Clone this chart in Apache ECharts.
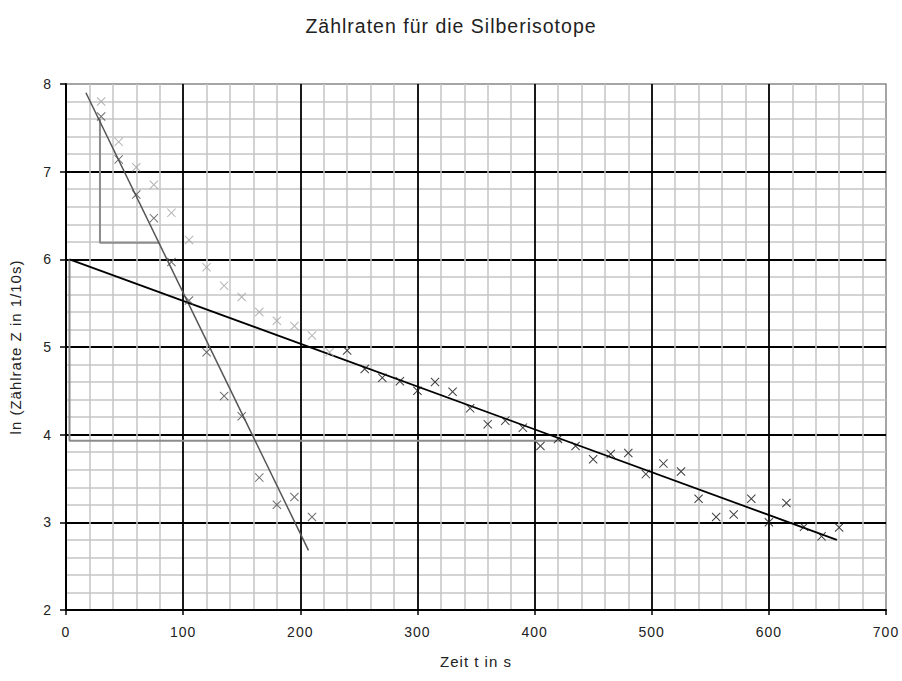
<!DOCTYPE html>
<html>
<head>
<meta charset="utf-8">
<script src="https://cdn.jsdelivr.net/npm/echarts@6/dist/echarts.min.js"></script>
<style>
  html, body { margin: 0; padding: 0; background: #fff; }
  #chart { width: 902px; height: 681px; }
  /* etwas gesperrte Schrift wie im Original */
  #chart svg text { letter-spacing: 1px; }
</style>
</head>
<body>
<div id="chart"></div>
<script>
// Messzeiten (s) und ln der Zaehlraten
const tTotal = [30, 45, 60, 75, 90, 105, 120, 135, 150, 165, 180, 195, 210, 225];
const lnTotal = [7.80, 7.34, 7.05, 6.85, 6.53, 6.22, 5.91, 5.70, 5.57, 5.40, 5.30, 5.24, 5.13, 4.94];

const tShort = [30, 45, 60, 75, 90, 105, 120, 135, 150, 165, 180, 195, 210];
const lnShort = [7.63, 7.14, 6.74, 6.47, 5.97, 5.53, 4.94, 4.44, 4.21, 3.51, 3.20, 3.29, 3.06];

const tLong = [240, 255, 270, 285, 300, 315, 330, 345, 360, 375, 390, 405, 420, 435, 450,
  465, 480, 495, 510, 525, 540, 555, 570, 585, 600, 615, 630, 645, 660];
const lnLong = [4.96, 4.75, 4.65, 4.61, 4.50, 4.60, 4.49, 4.30, 4.12, 4.16, 4.08, 3.87, 3.95, 3.87, 3.72,
  3.78, 3.79, 3.55, 3.67, 3.58, 3.27, 3.06, 3.09, 3.27, 3.00, 3.22, 2.95, 2.84, 2.94];

// Ausgleichsgeraden (Endpunkte) und Steigungsdreiecke
const fitShort = [[17, 7.9], [207, 2.68]];
const fitLong = [[3, 6.0], [658, 2.8]];
const triShort = [[29, 7.6], [29, 6.19], [80, 6.19]];
const triLong = [[3, 6.0], [3, 3.93], [423, 3.93]];

const cross = "path://M0,0.8 L0.8,0 L5,4.2 L9.2,0 L10,0.8 L5.8,5 L10,9.2 L9.2,10 L5,5.8 L0.8,10 L0,9.2 L4.2,5 Z";

function pairs(xs, ys) {
  return xs.map((x, i) => [x, ys[i]]);
}

const font = "Liberation Sans";
const chart = echarts.init(document.getElementById("chart"), null, { renderer: "svg" });

const option = {
  animation: false,
  backgroundColor: "#fff",
  title: {
    text: "Zählraten für die Silberisotope",
    left: "center",
    top: 11,
    textStyle: { fontFamily: font, fontSize: 19.5, fontWeight: "normal", color: "#222" }
  },
  grid: {
    left: 65,
    right: 16,
    top: 84,
    bottom: 71,
    show: true,
    borderColor: "#888",
    borderWidth: 1.5,
    backgroundColor: "transparent"
  },
  xAxis: {
    type: "value",
    min: 0,
    max: 700,
    interval: 100,
    name: "Zeit t in s",
    nameLocation: "middle",
    nameGap: 44,
    nameTextStyle: { fontFamily: font, fontSize: 15, color: "#222" },
    axisLine: { lineStyle: { color: "#000", width: 2 } },
    axisTick: { show: true, length: 5, lineStyle: { color: "#000", width: 1.5 } },
    axisLabel: { margin: 15, fontFamily: font, fontSize: 14, color: "#222" },
    splitLine: { show: true, showMinLine: false, showMaxLine: false,
      lineStyle: { color: "#000", width: 1.8 } },
    minorTick: { show: false, splitNumber: 5 },
    minorSplitLine: { show: true, lineStyle: { color: "#c4c4c4", width: 1.5 } }
  },
  yAxis: {
    type: "value",
    min: 2,
    max: 8,
    interval: 1,
    name: "ln (Zählrate Z in 1/10s)",
    nameLocation: "middle",
    nameGap: 43,
    nameTextStyle: { fontFamily: font, fontSize: 15, color: "#222" },
    axisLine: { show: true, lineStyle: { color: "#000", width: 2 } },
    axisTick: { show: true, length: 6, lineStyle: { color: "#000", width: 1.5 } },
    axisLabel: { margin: 14, fontFamily: font, fontSize: 14, color: "#222" },
    splitLine: { show: true, showMinLine: false, showMaxLine: false,
      lineStyle: { color: "#000", width: 1.8 } },
    minorTick: { show: false, splitNumber: 5 },
    minorSplitLine: { show: true, lineStyle: { color: "#c4c4c4", width: 1.5 } }
  },
  series: [
    {
      name: "Dreieck lang",
      type: "line",
      data: triLong,
      symbol: "none",
      lineStyle: { color: "#8c8c8c", width: 2 },
      z: 2
    },
    {
      name: "Dreieck kurz",
      type: "line",
      data: triShort,
      symbol: "none",
      lineStyle: { color: "#8c8c8c", width: 2 },
      z: 2
    },
    {
      name: "Gerade kurz",
      type: "line",
      data: fitShort,
      symbol: "none",
      lineStyle: { color: "#555", width: 1.5 },
      z: 3
    },
    {
      name: "Gerade lang",
      type: "line",
      data: fitLong,
      symbol: "none",
      lineStyle: { color: "#000", width: 1.8 },
      z: 3
    },
    {
      name: "gesamt",
      type: "scatter",
      data: pairs(tTotal, lnTotal),
      symbol: cross,
      symbolSize: 9,
      itemStyle: { color: "#a0a0a0" },
      z: 4
    },
    {
      name: "kurzlebig",
      type: "scatter",
      data: pairs(tShort, lnShort),
      symbol: cross,
      symbolSize: 9,
      itemStyle: { color: "#4a4a4a" },
      z: 4
    },
    {
      name: "langlebig",
      type: "scatter",
      data: pairs(tLong, lnLong),
      symbol: cross,
      symbolSize: 9,
      itemStyle: { color: "#111" },
      z: 4
    }
  ]
};

chart.setOption(option);
window.addEventListener("resize", function() {
  chart.resize();
});
</script>
</body>
</html>
